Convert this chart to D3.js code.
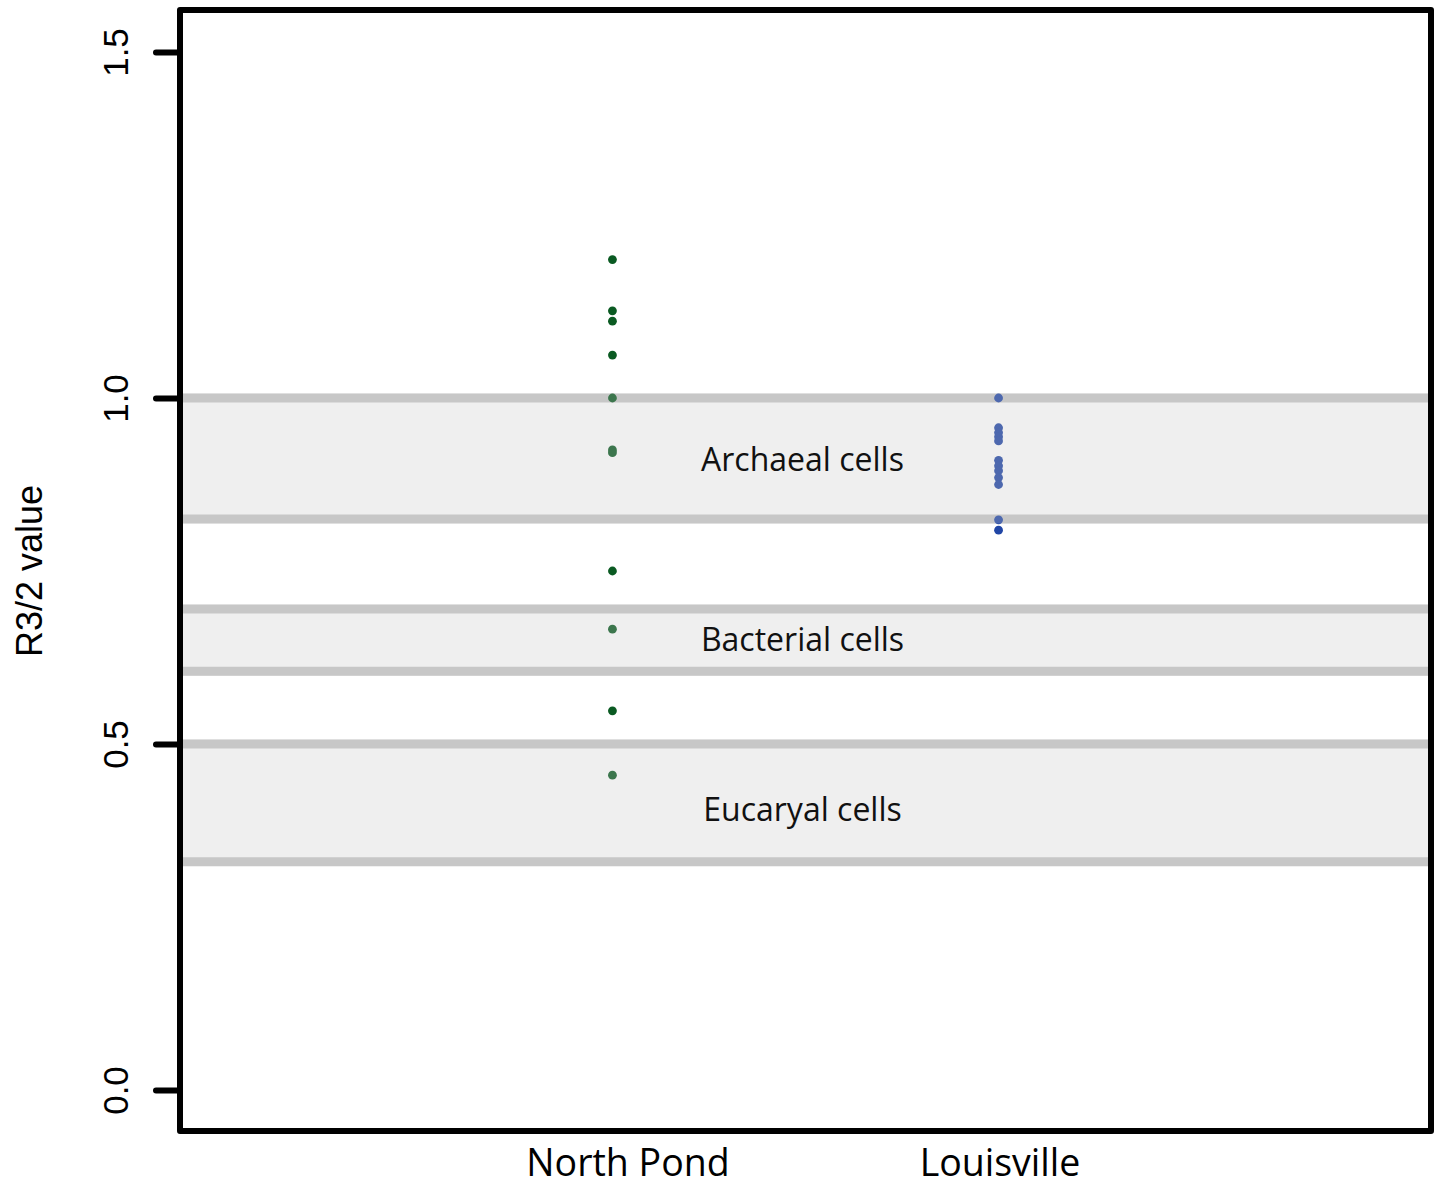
<!DOCTYPE html>
<html>
<head>
<meta charset="utf-8">
<script src="https://cdn.jsdelivr.net/npm/d3@7"></script>
<style>
  body { margin: 0; background: #fff; }
  svg { display: block; }
</style>
</head>
<body>
<div id="chart"></div>
<script>
// data
const sites = ['North Pond', 'Louisville'];
const northPond = [1.2, 1.126, 1.111, 1.062, 1.0, 0.925, 0.921, 0.75, 0.666, 0.548, 0.455];
const louisville = [1.0, 0.957, 0.950, 0.944, 0.938, 0.910, 0.902, 0.895, 0.885, 0.875, 0.824, 0.809];
const bandNames = ['Archaeal cells', 'Bacterial cells', 'Eucaryal cells'];
const bandLow = [0.825, 0.605, 0.33];
const bandHigh = [1.0, 0.695, 0.5];
const bandLabelAt = [0.91, 0.65, 0.405];
const yTicks = [0, 0.5, 1.0, 1.5];

const width = 1437, height = 1189;
const box = {left: 180, top: 10, right: 1431, bottom: 1131};

const svg = d3.select('#chart').append('svg')
    .attr('width', width).attr('height', height);

const y = d3.scaleLinear([0, 1.5], [1090, 52]);
const x = d3.scalePoint().domain(sites).range([box.left, box.right]).padding(1.12);
const xLabel = d3.scalePoint().domain(sites).range([628, 1000]);

const bands = bandNames.map((name, i) => ({name, lo: bandLow[i], hi: bandHigh[i], at: bandLabelAt[i]}));
const lineW = 9;

// band edges (under points)
const edges = svg.append('g');
bands.forEach(b => {
    [b.lo, b.hi].forEach(v => {
        edges.append('line')
            .attr('x1', box.left + 3).attr('x2', box.right - 3)
            .attr('y1', y(v)).attr('y2', y(v))
            .attr('stroke', '#c9c9c9').attr('stroke-width', lineW);
    });
});

// points
const pts = [
    ...northPond.map(v => ({site: 'North Pond', v})),
    ...louisville.map(v => ({site: 'Louisville', v}))
];
svg.append('g').selectAll('circle').data(pts).join('circle')
    .attr('cx', d => x(d.site))
    .attr('cy', d => y(d.v))
    .attr('r', 4.4)
    .attr('fill', d => d.site === 'North Pond' ? '#0a5a22' : '#2146a6');

// translucent band fill over points
svg.append('g').selectAll('rect').data(bands).join('rect')
    .attr('x', box.left + 3)
    .attr('width', box.right - box.left - 6)
    .attr('y', d => y(d.hi) - lineW / 2)
    .attr('height', d => y(d.lo) - y(d.hi) + lineW)
    .attr('fill', 'rgb(195,195,195)')
    .attr('fill-opacity', 0.27);

// band labels
svg.append('g').selectAll('text').data(bands).join('text')
    .attr('x', (box.left + box.right) / 2 - 3)
    .attr('y', d => y(d.at))
    .attr('dy', '0.35em')
    .attr('text-anchor', 'middle')
    .style('font-family', '"Open Sans", sans-serif')
    .style('font-size', '32px')
    .attr('fill', '#111')
    .text(d => d.name);

// frame
svg.append('rect')
    .attr('x', box.left).attr('y', box.top)
    .attr('width', box.right - box.left).attr('height', box.bottom - box.top)
    .attr('fill', 'none').attr('stroke', '#000').attr('stroke-width', 6)
    .attr('stroke-linejoin', 'round');

// y axis
const yAxis = d3.axisLeft(y).tickValues(yTicks).tickSize(24).tickFormat(d3.format('.1f'));
const ga = svg.append('g').attr('transform', `translate(${box.left},0)`).call(yAxis);
ga.select('.domain').remove();
ga.selectAll('.tick line').attr('stroke', '#000').attr('stroke-width', 6).attr('stroke-linecap', 'round');
ga.selectAll('.tick text')
    .attr('x', null).attr('dy', null)
    .attr('transform', 'translate(-52,0) rotate(-90)')
    .attr('text-anchor', 'middle')
    .attr('fill', '#000')
    .style('font-family', '"Liberation Sans", Arial, sans-serif')
    .style('font-size', '35px');

svg.append('text')
    .attr('transform', `translate(42,${571}) rotate(-90)`)
    .attr('text-anchor', 'middle')
    .style('font-family', '"Liberation Sans", Arial, sans-serif')
    .style('font-size', '36px')
    .text('R3/2 value');

// x labels
svg.append('g').selectAll('text').data(sites).join('text')
    .attr('x', d => xLabel(d))
    .attr('y', 1176)
    .attr('text-anchor', 'middle')
    .style('font-family', '"Open Sans", sans-serif')
    .style('font-size', '37.5px')
    .attr('fill', '#000')
    .text(d => d);
</script>
</body>
</html>
